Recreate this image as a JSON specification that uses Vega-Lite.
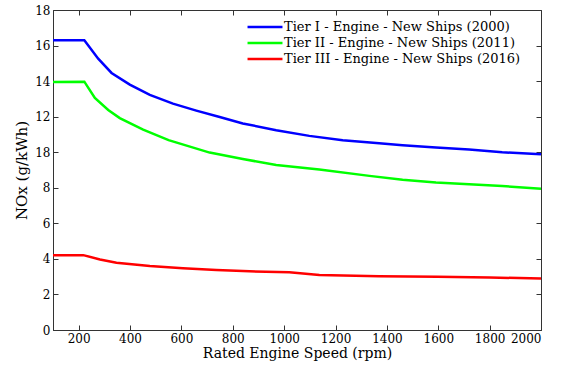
{
  "$schema": "https://vega.github.io/schema/vega-lite/v6.json",
  "width": 488,
  "height": 320,
  "autosize": {"type": "none"},
  "padding": {"left": 53, "top": 10, "right": 24, "bottom": 37},
  "background": "white",
  "config": {
    "view": {"stroke": "#333333", "strokeWidth": 1},
    "font": "DejaVu Serif",
    "axis": {"labelFont": "DejaVu Serif", "titleFont": "DejaVu Serif", "labelColor": "#000", "titleColor": "#000", "domainColor": "#333", "tickColor": "#333", "grid": false},
    "legend": {"labelFont": "DejaVu Serif"}
  },
  "data": {"values": [
    {"s": "Tier I - Engine - New Ships (2000)", "rpm": 100, "nox": 16.3},
    {"s": "Tier I - Engine - New Ships (2000)", "rpm": 222, "nox": 16.3},
    {"s": "Tier I - Engine - New Ships (2000)", "rpm": 276, "nox": 15.26},
    {"s": "Tier I - Engine - New Ships (2000)", "rpm": 328, "nox": 14.46},
    {"s": "Tier I - Engine - New Ships (2000)", "rpm": 399, "nox": 13.8},
    {"s": "Tier I - Engine - New Ships (2000)", "rpm": 477, "nox": 13.22},
    {"s": "Tier I - Engine - New Ships (2000)", "rpm": 567, "nox": 12.73},
    {"s": "Tier I - Engine - New Ships (2000)", "rpm": 658, "nox": 12.34},
    {"s": "Tier I - Engine - New Ships (2000)", "rpm": 749, "nox": 11.98},
    {"s": "Tier I - Engine - New Ships (2000)", "rpm": 839, "nox": 11.62},
    {"s": "Tier I - Engine - New Ships (2000)", "rpm": 969, "nox": 11.24},
    {"s": "Tier I - Engine - New Ships (2000)", "rpm": 1098, "nox": 10.92},
    {"s": "Tier I - Engine - New Ships (2000)", "rpm": 1228, "nox": 10.68},
    {"s": "Tier I - Engine - New Ships (2000)", "rpm": 1370, "nox": 10.5},
    {"s": "Tier I - Engine - New Ships (2000)", "rpm": 1461, "nox": 10.39},
    {"s": "Tier I - Engine - New Ships (2000)", "rpm": 1591, "nox": 10.27},
    {"s": "Tier I - Engine - New Ships (2000)", "rpm": 1720, "nox": 10.15},
    {"s": "Tier I - Engine - New Ships (2000)", "rpm": 1849, "nox": 10.0},
    {"s": "Tier I - Engine - New Ships (2000)", "rpm": 2000, "nox": 9.88},
    {"s": "Tier II - Engine - New Ships (2011)", "rpm": 100, "nox": 13.95},
    {"s": "Tier II - Engine - New Ships (2011)", "rpm": 222, "nox": 13.97},
    {"s": "Tier II - Engine - New Ships (2011)", "rpm": 263, "nox": 13.05},
    {"s": "Tier II - Engine - New Ships (2011)", "rpm": 315, "nox": 12.38},
    {"s": "Tier II - Engine - New Ships (2011)", "rpm": 360, "nox": 11.92},
    {"s": "Tier II - Engine - New Ships (2011)", "rpm": 451, "nox": 11.27},
    {"s": "Tier II - Engine - New Ships (2011)", "rpm": 550, "nox": 10.68},
    {"s": "Tier II - Engine - New Ships (2011)", "rpm": 710, "nox": 9.98},
    {"s": "Tier II - Engine - New Ships (2011)", "rpm": 839, "nox": 9.62},
    {"s": "Tier II - Engine - New Ships (2011)", "rpm": 969, "nox": 9.28},
    {"s": "Tier II - Engine - New Ships (2011)", "rpm": 1137, "nox": 9.03},
    {"s": "Tier II - Engine - New Ships (2011)", "rpm": 1332, "nox": 8.67},
    {"s": "Tier II - Engine - New Ships (2011)", "rpm": 1461, "nox": 8.45},
    {"s": "Tier II - Engine - New Ships (2011)", "rpm": 1591, "nox": 8.3},
    {"s": "Tier II - Engine - New Ships (2011)", "rpm": 1720, "nox": 8.2},
    {"s": "Tier II - Engine - New Ships (2011)", "rpm": 1849, "nox": 8.1},
    {"s": "Tier II - Engine - New Ships (2011)", "rpm": 2000, "nox": 7.95},
    {"s": "Tier III - Engine - New Ships (2016)", "rpm": 100, "nox": 4.2},
    {"s": "Tier III - Engine - New Ships (2016)", "rpm": 218, "nox": 4.21},
    {"s": "Tier III - Engine - New Ships (2016)", "rpm": 283, "nox": 3.97},
    {"s": "Tier III - Engine - New Ships (2016)", "rpm": 347, "nox": 3.78},
    {"s": "Tier III - Engine - New Ships (2016)", "rpm": 477, "nox": 3.6},
    {"s": "Tier III - Engine - New Ships (2016)", "rpm": 606, "nox": 3.48},
    {"s": "Tier III - Engine - New Ships (2016)", "rpm": 736, "nox": 3.38},
    {"s": "Tier III - Engine - New Ships (2016)", "rpm": 865, "nox": 3.3},
    {"s": "Tier III - Engine - New Ships (2016)", "rpm": 1020, "nox": 3.25},
    {"s": "Tier III - Engine - New Ships (2016)", "rpm": 1137, "nox": 3.1},
    {"s": "Tier III - Engine - New Ships (2016)", "rpm": 1370, "nox": 3.03},
    {"s": "Tier III - Engine - New Ships (2016)", "rpm": 1597, "nox": 2.99},
    {"s": "Tier III - Engine - New Ships (2016)", "rpm": 1800, "nox": 2.95},
    {"s": "Tier III - Engine - New Ships (2016)", "rpm": 2000, "nox": 2.9}
  ]},
  "layer": [
    {
      "mark": {"type": "line", "strokeWidth": 2.5},
      "encoding": {
        "x": {"field": "rpm", "type": "quantitative", "scale": {"domain": [100, 2000], "nice": false, "zero": false},
          "axis": {"orient": "bottom", "values": [200,400,600,800,1000,1200,1400,1600,1800,2000], "format": "d", "tickSize": -5, "labelPadding": 8, "labelFontSize": 12, "titleFontSize": 14, "titleFontWeight": "normal", "title": "Rated Engine Speed (rpm)", "titlePadding": 2}},
        "y": {"field": "nox", "type": "quantitative", "scale": {"domain": [0, 18], "nice": false},
          "axis": {"orient": "left", "values": [0,2,4,6,8,10,12,14,16,18], "tickSize": -5, "labelPadding": 8, "labelFontSize": 12, "titleFontSize": 15, "titleFontWeight": "normal", "title": "NOx (g/kWh)", "titlePadding": 5, "labelExpr": "datum.value == 10 ? '18' : datum.label"}},
        "color": {"field": "s", "type": "nominal", "title": null,
          "scale": {"range": ["#0000FF", "#00FF00", "#FF0000"]},
          "legend": {"orient": "none", "legendX": 203, "legendY": 8, "symbolType": "M-2.33,0H2.33", "symbolSize": 225, "symbolStrokeWidth": 2.5, "labelFontSize": 13, "labelColor": "#000", "labelLimit": 0, "rowPadding": 0, "labelOffset": 10, "padding": 0}}
      }
    },
    {
      "mark": {"type": "line", "strokeOpacity": 0},
      "encoding": {
        "x": {"field": "rpm", "type": "quantitative", "scale": {"domain": [100, 2000], "nice": false, "zero": false},
          "axis": {"orient": "top", "values": [200,400,600,800,1000,1200,1400,1600,1800,2000], "tickSize": -5, "labels": false, "title": null, "domain": false}},
        "y": {"field": "nox", "type": "quantitative", "scale": {"domain": [0, 18], "nice": false},
          "axis": {"orient": "right", "values": [0,2,4,6,8,10,12,14,16,18], "tickSize": -5, "labels": false, "title": null, "domain": false}},
        "detail": {"field": "s"}
      }
    }
  ],
  "resolve": {"axis": {"x": "independent", "y": "independent"}}
}
